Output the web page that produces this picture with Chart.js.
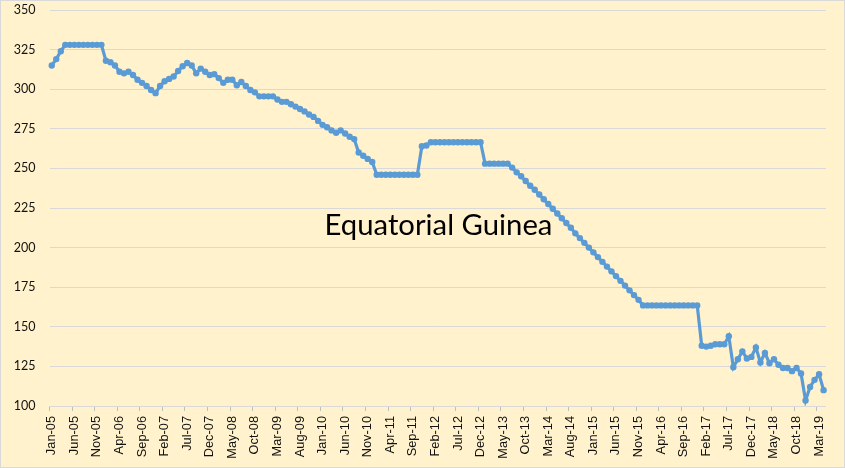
<!DOCTYPE html>
<html>
<head>
<meta charset="utf-8">
<script src="https://cdn.jsdelivr.net/npm/chart.js@4.4.1/dist/chart.umd.min.js"></script>
<style>
  html, body { margin: 0; padding: 0; background: #fff; }
  #wrap { width: 845px; height: 468px; box-sizing: border-box; border: 1px solid #d9d9d9; background: #fff2cc; }
  canvas { display: block; }
</style>
</head>
<body>
<div id="wrap"><canvas id="myChart" width="843" height="466"></canvas></div>
<script>
const monthNames = ["Jan", "Feb", "Mar", "Apr", "May", "Jun", "Jul", "Aug", "Sep", "Oct", "Nov", "Dec"];
const startYear = 2005;
const monthCount = 172; // Jan-05 .. Apr-19

const labels = [];
for (let i = 0; i < monthCount; i++) {
  const yy = String((startYear + Math.floor(i / 12)) % 100).padStart(2, "0");
  labels.push(monthNames[i % 12] + "-" + yy);
}

// kb/d
const production2005 = [315, 319, 324, 328, 328, 328, 328, 328, 328, 328, 328, 328];
const production2006 = [318, 317, 315, 311, 310, 311, 309, 306, 304, 302, 299.5, 297.5];
const production2007 = [302, 305, 306.5, 308, 311.5, 314.5, 316.5, 315, 310, 313, 311, 309];
const production2008 = [309.5, 307, 304, 306, 306, 302.5, 304.5, 302, 299.5, 298, 295.5, 295.5];
const production2009 = [295.5, 295.5, 293.5, 292, 292, 290.5, 289, 287.5, 286, 284, 282.5, 280];
const production2010 = [277.5, 276, 274, 272.5, 274, 272, 270, 268.5, 260, 258, 256, 254];
const production2011 = [246, 246, 246, 246, 246, 246, 246, 246, 246, 246, 264, 264.5];
const production2012 = [266.5, 266.5, 266.5, 266.5, 266.5, 266.5, 266.5, 266.5, 266.5, 266.5, 266.5, 266.5];
const production2013 = [253, 253, 253, 253, 253, 253, 250.5, 247.5, 245, 242, 239, 236.5];
const production2014 = [233.5, 230.5, 227.5, 224.5, 221.5, 218.5, 215.5, 212.5, 209, 206, 203, 200];
const production2015 = [197, 194, 191, 188, 185, 182, 179, 176, 173, 170, 167, 163.5];
const production2016 = [163.5, 163.5, 163.5, 163.5, 163.5, 163.5, 163.5, 163.5, 163.5, 163.5, 163.5, 163.5];
const production2017 = [138, 137.5, 138, 139, 139, 139, 144, 124.5, 129.5, 134.5, 130, 131];
const production2018 = [137, 127.5, 133.5, 127, 129.5, 126, 124, 124, 122, 124, 120.5, 103.5];
const production2019 = [112, 116.5, 120, 110];

const production = [].concat(
  production2005, production2006, production2007, production2008, production2009,
  production2010, production2011, production2012, production2013, production2014,
  production2015, production2016, production2017, production2018, production2019
);

const yTicks = [100, 125, 150, 175, 200, 225, 250, 275, 300, 325, 350];
const chartTitle = "Equatorial Guinea";

const titlePlugin = {
  id: "insideTitle",
  afterDatasetsDraw(chart) {
    const { ctx, chartArea } = chart;
    ctx.save();
    ctx.font = "30px Lato";
    const w = ctx.measureText(chartTitle).width;
    const size = 30 * 228 / w;
    ctx.font = size + "px Lato";
    ctx.fillStyle = "#000";
    ctx.textBaseline = "alphabetic";
    ctx.fillText(chartTitle, chartArea.left + 275, chartArea.top + 225);
    ctx.restore();
  },
};

const ctx = document.getElementById("myChart").getContext("2d");
const chart = new Chart(ctx, {
  type: "line",
  data: {
    labels: labels,
    datasets: [
      {
        label: chartTitle,
        data: production,
        borderColor: "#5b9bd5",
        backgroundColor: "#5b9bd5",
        borderWidth: 3.2,
        pointRadius: 3.2,
        pointBorderWidth: 0,
        pointHoverRadius: 3,
        tension: 0,
        fill: false,
      },
    ],
  },
  options: {
    responsive: false,
    animation: false,
    layout: { padding: { top: 9, right: 12, left: 0, bottom: 0 } },
    plugins: {
      legend: { display: false },
      tooltip: { enabled: false },
    },
    scales: {
      x: {
        type: "category",
        offset: true,
        afterFit: (scale) => { scale.height = 61; },
        grid: {
          offset: true,
          drawOnChartArea: false,
          tickLength: 5,
          color: (c) => (c.index % 5 === 0 ? "#bfbfbf" : "rgba(0,0,0,0)"),
        },
        border: { display: true, color: "#d9d9d9", width: 1 },
        ticks: {
          autoSkip: false,
          maxRotation: 90,
          minRotation: 90,
          padding: 5,
          color: "#111",
          font: { family: "'Liberation Sans', Arial", size: 12.8 },
          callback: (value, index) => (index % 5 === 0 ? labels[index] : ""),
        },
      },
      y: {
        min: 100,
        max: 350,
        afterFit: (scale) => {
          scale.width = 48.5;
          scale.paddingTop = 0;
          scale.paddingBottom = 0;
        },
        afterBuildTicks: (scale) => { scale.ticks = yTicks.map((v) => ({ value: v })); },
        grid: { color: "#d9d9d9", lineWidth: 1, drawTicks: false },
        border: { display: false },
        ticks: {
          padding: 14,
          color: "#111",
          font: { family: "Lato", size: 12.5 },
        },
      },
    },
  },
  plugins: [titlePlugin],
});
</script>
</body>
</html>
